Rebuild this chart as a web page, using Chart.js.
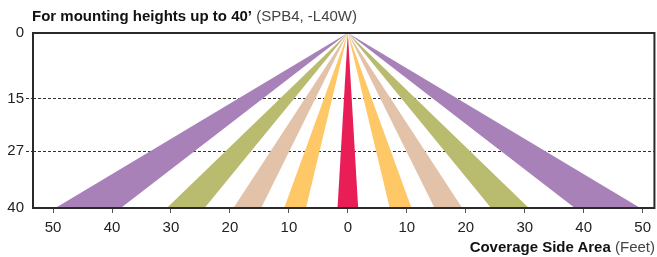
<!DOCTYPE html>
<html>
<head>
<meta charset="utf-8">
<script src="https://cdn.jsdelivr.net/npm/chart.js@4"></script>
<style>
  body { margin: 0; background: #fff; font-family: "Liberation Sans", Arial, sans-serif; color: #222; }
  #wrap { position: relative; width: 657px; height: 257px; }
  #title, #xtitle { position: absolute; font-size: 15px; line-height: 15px; white-space: nowrap; }
  #title { left: 32px; top: 8px; }
  #xtitle { right: 2px; top: 239px; }
  b { font-weight: 700; color: #111; }
  .sub { color: #444; }
</style>
</head>
<body>
<div id="wrap">
  <canvas id="c" width="657" height="257"></canvas>
  <div id="title"><b>For mounting heights up to 40’</b> <span class="sub">(SPB4, -L40W)</span></div>
  <div id="xtitle"><b>Coverage Side Area</b> <span class="sub">(Feet)</span></div>
</div>
<script>
// wedges: [inner, outer] offset in feet at the 40 ft line
const bandNames = ["Purple", "Olive", "Tan", "Orange"];
const bandInner = [38.5, 24.3, 14.7, 7.1];
const bandOuter = [49.6, 30.7, 19.4, 10.8];
const bandColors = ["#a981b9", "#b9bb6f", "#e2c2a8", "#fec866"];
const centerHalf = 1.75;
const centerColor = "#e91e56";
const mountHeight = 40;
const xTicks = [-50, -40, -30, -20, -10, 0, 10, 20, 30, 40, 50];
const yTicks = [0, 15, 27, 40];
const dashedAt = [15, 27];

function wedge(a, b) {
  return [{ x: 0, y: 0 }, { x: a, y: mountHeight }, { x: b, y: mountHeight }, { x: 0, y: 0 }];
}

const datasets = [];
bandNames.forEach((name, i) => {
  datasets.push({ label: name + " L", data: wedge(-bandOuter[i], -bandInner[i]), backgroundColor: bandColors[i] });
  datasets.push({ label: name + " R", data: wedge(bandInner[i], bandOuter[i]), backgroundColor: bandColors[i] });
});
datasets.push({ label: "Center", data: wedge(-centerHalf, centerHalf), backgroundColor: centerColor });
datasets.forEach((d) => Object.assign(d, { fill: "shape", borderWidth: 0, pointRadius: 0, showLine: true, tension: 0 }));

const boxPlugin = {
  id: "box",
  afterDatasetsDraw(chart) {
    const { ctx, chartArea: a } = chart;
    ctx.save();
    ctx.strokeStyle = "#2a2a2a";
    ctx.lineWidth = 2;
    ctx.strokeRect(a.left, a.top, a.right - a.left, a.bottom - a.top);
    ctx.restore();
  },
};

new Chart(document.getElementById("c"), {
  type: "line",
  data: { datasets },
  plugins: [boxPlugin],
  options: {
    responsive: false,
    animation: false,
    layout: { padding: { top: 33, right: 1, bottom: 19, left: 0 } },
    plugins: { legend: { display: false }, tooltip: { enabled: false } },
    scales: {
      x: {
        type: "linear",
        min: -53.4,
        max: 52,
        afterBuildTicks: (s) => { s.ticks = xTicks.map((v) => ({ value: v })); },
        afterFit: (s) => { s.height = 30; },
        ticks: {
          callback: (v) => Math.abs(v),
          color: "#222",
          font: { family: "Liberation Sans", size: 15 },
          padding: 6,
          maxRotation: 0,
        },
        grid: { drawOnChartArea: false, tickLength: 5, tickColor: "#555", tickWidth: 1 },
        border: { display: false },
      },
      y: {
        type: "linear",
        reverse: true,
        min: 0,
        max: 40,
        afterBuildTicks: (s) => { s.ticks = yTicks.map((v) => ({ value: v })); },
        afterFit: (s) => { s.width = 33; },
        ticks: { color: "#222", font: { family: "Liberation Sans", size: 15 }, padding: 2 },
        grid: {
          color: (c) => (dashedAt.includes(c.tick.value) ? "#333" : "rgba(0,0,0,0)"),
          tickColor: (c) => (dashedAt.includes(c.tick.value) ? "#333" : "rgba(0,0,0,0)"),
          lineWidth: 1,
          tickLength: 7,
          tickBorderDash: [3, 2],
        },
        border: { display: false, dash: [3, 2] },
      },
    },
  },
});
</script>
</body>
</html>
